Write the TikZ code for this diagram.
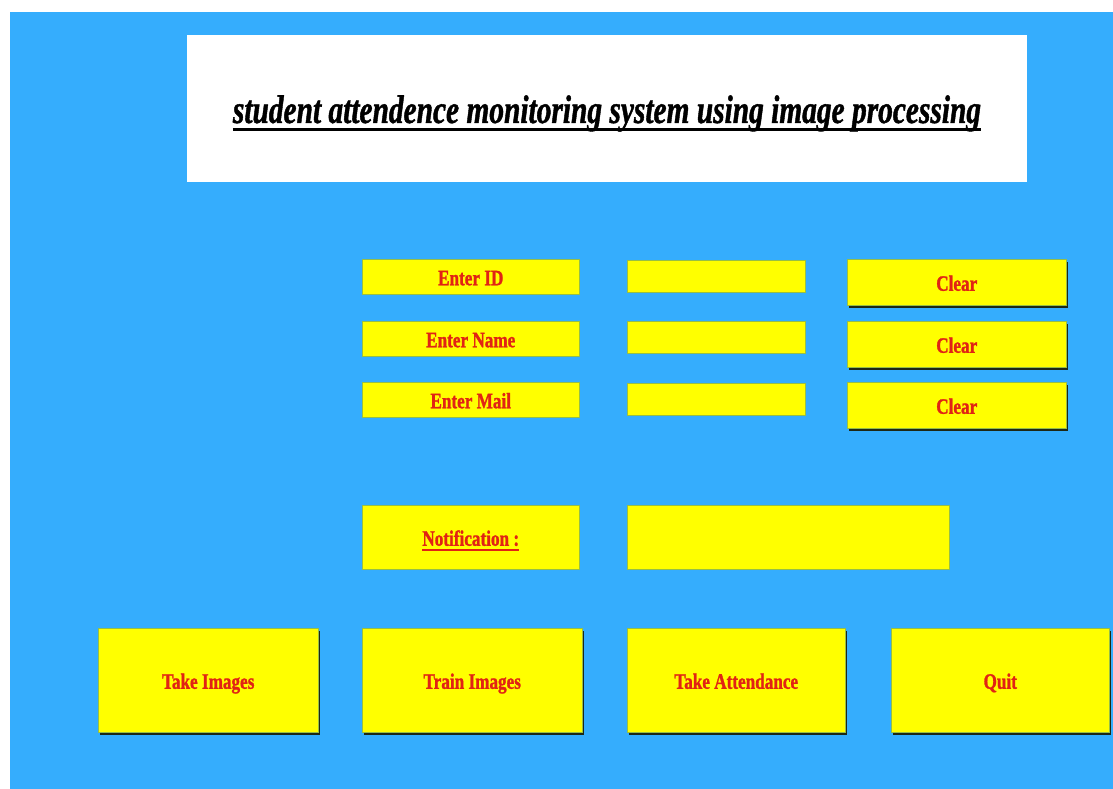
\documentclass[tikz,border=0pt]{standalone}
\usepackage{fontspec}
\setmainfont{Liberation Serif}
\newfontfamily\condfont[FakeStretch=0.78, FakeBold=1.2, UprightFont={Liberation Serif Bold}, BoldFont={Liberation Serif Bold}]{Liberation Serif}
\newfontfamily\titlefont[FakeStretch=0.735, FakeBold=1, UprightFont={Liberation Serif Bold Italic}, ItalicFont={Liberation Serif Bold Italic}, BoldFont={Liberation Serif Bold Italic}, BoldItalicFont={Liberation Serif Bold Italic}]{Liberation Serif}
\newcommand\ulthick[3]{\leavevmode\setbox0\hbox{#1}\rlap{\copy0}\rule[-#2]{\wd0}{#3}}
\usetikzlibrary{shadows}
\definecolor{bgblue}{RGB}{53,173,253}
\definecolor{btnyellow}{RGB}{255,255,0}
\definecolor{txtred}{RGB}{225,35,20}
\definecolor{edge}{RGB}{150,190,70}
\definecolor{shade}{RGB}{30,40,20}
\tikzset{
  box/.style={rectangle, anchor=north west, inner sep=0pt, fill=btnyellow, draw=edge, line width=0.5pt,
    font=\condfont\fontsize{22}{24}\selectfont, text=txtred, text height=17pt, text depth=0pt},
  btn/.style={box, general shadow={fill=shade, shadow xshift=2.2pt, shadow yshift=-2.6pt}},
}
\begin{document}
\begin{tikzpicture}[x=1pt,y=-1pt]
\useasboundingbox (0,0) rectangle (1113,789);
\fill[white] (0,0) rectangle (1113,789);
\fill[bgblue] (10,12) rectangle (1113,789);
\node[rectangle, anchor=north west, fill=white, inner sep=0pt, minimum width=840pt, minimum height=147pt] (title) at (187,35) {};
\node[font=\titlefont\fontsize{40}{44}\selectfont, anchor=base, inner sep=0pt] (titletext) at (607,123) {\ulthick{student attendence monitoring system using image processing}{8pt}{3pt}};
% labels
\node[box, minimum width=217pt, minimum height=35pt] (lid) at (362,259) {Enter ID};
\node[box, minimum width=217pt, minimum height=35pt] (lname) at (362,321) {Enter Name};
\node[box, minimum width=217pt, minimum height=35pt] (lmail) at (362,382) {Enter Mail};
% entries
\node[box, minimum width=178pt, minimum height=32pt] (eid) at (627,260) {};
\node[box, minimum width=178pt, minimum height=32pt] (ename) at (627,321) {};
\node[box, minimum width=178pt, minimum height=32pt] (email) at (627,383) {};
% clear buttons
\node[btn, minimum width=219pt, minimum height=46pt] (cid) at (847,259) {Clear};
\node[btn, minimum width=219pt, minimum height=46pt] (cname) at (847,321) {Clear};
\node[btn, minimum width=219pt, minimum height=46pt] (cmail) at (847,382) {Clear};
% notification
\node[box, minimum width=217pt, minimum height=64pt] (notl) at (362,505) {\ulthick{Notification :}{5pt}{2pt}};
\node[box, minimum width=322pt, minimum height=64pt] (notf) at (627,505) {};
% big buttons
\node[btn, minimum width=220pt, minimum height=104pt] (take) at (98,628) {Take Images};
\node[btn, minimum width=220pt, minimum height=104pt] (train) at (362,628) {Train Images};
\node[btn, minimum width=218pt, minimum height=104pt] (att) at (627,628) {Take Attendance};
\node[btn, minimum width=218pt, minimum height=104pt] (quit) at (891,628) {Quit};
\end{tikzpicture}
\end{document}
